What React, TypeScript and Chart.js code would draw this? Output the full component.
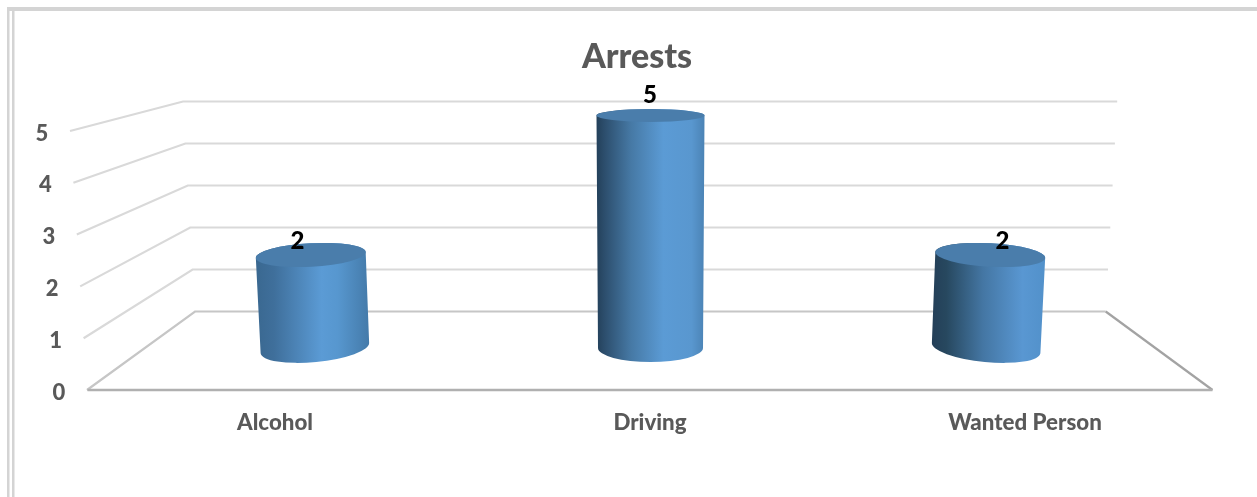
import React, { useEffect, useRef } from "react";
import { Chart, registerables } from "chart.js";

Chart.register(...registerables);

const categories = ["Alcohol", "Driving", "Wanted Person"];
const arrests = [2, 5, 2];
const chartTitle = "Arrests";

const GRID = "#d9d9d9";
const TEXT = "#595959";

// side shading per bar [stop, colour]
const sideStops: [number, string][][] = [
  [[0, "#3a6890"], [0.16, "#3f6f9b"], [0.58, "#5b9bd5"], [0.72, "#5797cf"], [1, "#447aa9"]],
  [[0, "#23405a"], [0.08, "#2d4f6e"], [0.32, "#4679a5"], [0.62, "#5b9bd5"], [0.88, "#5997cf"], [1, "#4b83b5"]],
  [[0, "#243f58"], [0.13, "#27485f"], [0.45, "#4476a3"], [0.8, "#5997d2"], [1, "#5291ca"]],
];
const capColor = "#4a7dab";

const walls = {
  id: "walls",
  beforeDatasetsDraw(chart: any) {
    const { ctx, scales } = chart;
    const y = scales.y;
    const { left, right, bottom } = chart.chartArea;
    ctx.save();
    // frame of the sheet
    ctx.fillStyle = "#d4d4d4";
    ctx.fillRect(7, 7, 1250, 4);
    ctx.fillRect(7, 7, 2.5, 490);
    ctx.fillRect(12, 7, 2.5, 490);

    ctx.lineCap = "butt";
    y.ticks.forEach((t: any) => {
      const v = t.value;
      const p = y.getPixelForValue(v);
      const frontX = left - 0.5 - 3.4 * v;
      const backY = 311.5 - (bottom - p) * (210 / 259);
      const backL = 195 - 2.4 * v;
      const backR = 1105.7 + 2.3 * v;
      ctx.strokeStyle = GRID;
      ctx.lineWidth = 2.2;
      ctx.beginPath();
      ctx.moveTo(frontX, p);
      ctx.lineTo(backL, backY);
      ctx.lineTo(backR, backY);
      if (v > 0) {
        ctx.stroke();
      } else {
        ctx.strokeStyle = "#c6c6c6";
        ctx.stroke();
        ctx.strokeStyle = "#a3a3a3";
        ctx.beginPath();
        ctx.moveTo(backR, backY);
        ctx.lineTo(right, p);
        ctx.stroke();
        ctx.strokeStyle = "#b0b0b0";
        ctx.lineWidth = 2.4;
        ctx.beginPath();
        ctx.moveTo(left, p);
        ctx.lineTo(right, p);
        ctx.stroke();
      }
      // value axis label, shifted along the slanted front edge
      ctx.fillStyle = TEXT;
      ctx.font = "900 22px Lato";
      ctx.textAlign = "center";
      ctx.textBaseline = "middle";
      ctx.fillText(String(v), 59 - 3.4 * v, p + 2.5);
    });
    ctx.restore();
  },
  afterDatasetsDraw(chart: any) {
    const { ctx } = chart;
    const { bottom } = chart.chartArea;
    const meta = chart.getDatasetMeta(0);
    const cxMid = (chart.chartArea.left + chart.chartArea.right) / 2;
    const half = (chart.chartArea.right - chart.chartArea.left) / 3;
    ctx.save();
    meta.data.forEach((el: any, i: number) => {
      const d = (el.x - cxMid) / half;
      const a = Math.abs(d);
      const v = arrests[i];
      const topY = 348 - (bottom - el.y) * (232.5 / 259);
      const baseY = 348;
      const topX = cxMid + 0.5 + (el.x - cxMid) * 0.906;
      const baseX = cxMid + 0.5 + (el.x - cxMid) * 0.895;
      const topRx = (108 + 2 * a) / 2;
      const baseRx = (105 + 4 * a) / 2;
      const topRot = ((3.1 * d) * Math.PI) / 180;
      const baseRot = ((5.5 * d) * Math.PI) / 180;
      const topRy = 15.3 - 1.77 * v;
      const baseRy = 14;

      const x0 = Math.min(topX - topRx, baseX - baseRx);
      const x1 = Math.max(topX + topRx, baseX + baseRx);
      const g = ctx.createLinearGradient(x0, 0, x1, 0);
      sideStops[i].forEach(([s, c]) => g.addColorStop(s, c));
      ctx.fillStyle = g;
      ctx.beginPath();
      ctx.ellipse(baseX, baseY, baseRx, baseRy, baseRot, 0, Math.PI);
      ctx.ellipse(topX, topY, topRx, topRy, topRot, Math.PI, 2 * Math.PI);
      ctx.closePath();
      ctx.fill();

      ctx.fillStyle = capColor;
      ctx.beginPath();
      ctx.ellipse(topX, topY, topRx, topRy, topRot, 0, 2 * Math.PI);
      ctx.fill();

      ctx.fillStyle = "#000000";
      ctx.font = "900 24px Lato";
      ctx.textAlign = "center";
      ctx.textBaseline = "middle";
      ctx.fillText(String(v), cxMid + (el.x - cxMid) * 0.94, 338.3 - (bottom - el.y) * (48.67 / 51.8));
    });
    ctx.restore();
  },
};

export default function App() {
  const ref = useRef<HTMLCanvasElement>(null);
  useEffect(() => {
    const chart = new Chart(ref.current!, {
      type: "bar",
      data: {
        labels: categories,
        datasets: [{ data: arrests, backgroundColor: "rgba(0,0,0,0)", barThickness: 108 }],
      },
      plugins: [walls],
      options: {
        animation: false,
        responsive: false,
        devicePixelRatio: 1,
        layout: { padding: { left: 61.5, right: 44.5, top: 0, bottom: 0 } },
        plugins: {
          legend: { display: false },
          tooltip: { enabled: false },
          title: {
            display: true,
            text: chartTitle,
            color: TEXT,
            font: { family: "Lato", size: 34, weight: "900" },
            padding: { top: 36.5, bottom: 53.7 },
          },
        },
        scales: {
          x: {
            grid: { display: false },
            border: { display: false },
            ticks: {
              color: TEXT,
              font: { family: "Lato", size: 22.3, weight: "900" },
              padding: 11,
              maxRotation: 0,
            },
            afterFit: (s: any) => { s.height = 107; },
          },
          y: {
            min: 0,
            max: 5,
            grid: { display: false },
            border: { display: false },
            ticks: { display: false, stepSize: 1 },
            afterFit: (s: any) => { s.width = 26; },
          },
        },
      },
    } as any);
    return () => chart.destroy();
  }, []);
  return (
    <div style={{ position: "fixed", left: 0, top: 0, width: 1257, height: 497, background: "#fff" }}>
      <canvas ref={ref} width={1257} height={497} style={{ display: "block" }} />
    </div>
  );
}
